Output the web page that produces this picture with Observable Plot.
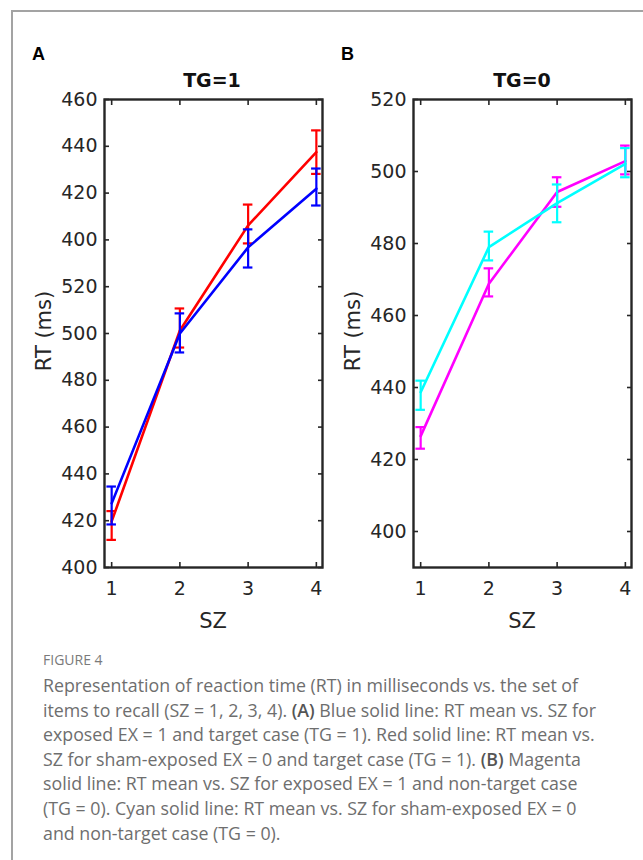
<!DOCTYPE html>
<html>
<head>
<meta charset="utf-8">
<script src="https://cdn.jsdelivr.net/npm/d3@7"></script>
<script src="https://cdn.jsdelivr.net/npm/@observablehq/plot@0.6"></script>
<style>
  html, body { margin: 0; padding: 0; background: #fff; }
  #page { position: relative; width: 643px; height: 860px; overflow: hidden; background: #fff; }
  .border { position: absolute; left: 11px; top: 10px; width: 700px; height: 900px;
            border-left: 2px solid #a3a3a3; border-top: 2px solid #a3a3a3; }
  .plot { position: absolute; top: 40px; }
  #overlay { position: absolute; left: 0; top: 0; }
  .figlabel { position: absolute; left: 43px; top: 650px; font-family: "Open Sans", Lato, sans-serif;
              font-size: 14px; line-height: 20px; color: #7a7a7a; }
  .caption { position: absolute; left: 43px; top: 673px; width: 598px; font-family: "Open Sans", Lato, sans-serif;
             font-size: 17.8px; line-height: 24.6px; color: #6e6e6e; white-space: nowrap; }
  .caption b { color: #555; font-weight: 600; }
</style>
</head>
<body>
<div id="page">
  <div class="border"></div>
  <div id="left" class="plot" style="left:0px"></div>
  <div id="right" class="plot" style="left:320px"></div>
  <svg id="overlay" width="643" height="640"></svg>
  <div class="figlabel">FIGURE 4</div>
  <div class="caption">
    Representation of reaction time (RT) in milliseconds vs. the set of<br>
    items to recall (SZ = 1, 2, 3, 4). <b>(A)</b> Blue solid line: RT mean vs. SZ for<br>
    exposed EX = 1 and target case (TG = 1). Red solid line: RT mean vs.<br>
    SZ for sham-exposed EX = 0 and target case (TG = 1). <b>(B)</b> Magenta<br>
    solid line: RT mean vs. SZ for exposed EX = 1 and non-target case<br>
    (TG = 0). Cyan solid line: RT mean vs. SZ for sham-exposed EX = 0<br>
    and non-target case (TG = 0).
  </div>
</div>
<script>
// ---------- data ----------
const sz = [1, 2, 3, 4];

// Panel A (TG = 1) — y positions on the panel's continuous scale (lower tick labels continued)
const aBlueMean = [427.4, 500.0, 536.8, 561.9];   // EX = 1
const aBlueLo   = [418.4, 491.9, 528.2, 554.7];
const aBlueHi   = [434.6, 508.6, 544.5, 570.5];
const aRedMean  = [419.7, 501.3, 546.2, 577.5];   // EX = 0
const aRedLo    = [411.8, 494.0, 538.5, 568.2];
const aRedHi    = [424.1, 510.7, 555.1, 586.8];

// Panel B (TG = 0)
const bMagMean  = [426.5, 468.8, 494.3, 502.9];   // EX = 1
const bMagLo    = [423.0, 465.3, 490.2, 499.2];
const bMagHi    = [429.0, 473.1, 498.4, 507.2];
const bCyanMean = [438.7, 479.0, 491.2, 502.1];   // EX = 0
const bCyanLo   = [433.8, 475.3, 485.9, 498.4];
const bCyanHi   = [441.9, 483.3, 496.4, 506.5];

// tick values and labels (panel A's labels are printed as in the original figure)
const aTickValues = [400, 420, 440, 460, 480, 500, 520, 540, 560, 580, 600];
const aTickLabels = ["400", "420", "440", "460", "480", "500", "520", "400", "420", "440", "460"];
const bTickValues = [400, 420, 440, 460, 480, 500, 520];
const bTickLabels = ["400", "420", "440", "460", "480", "500", "520"];
const xTickLabels = ["1", "2", "3", "4"];

function rows(mean, lo, hi) {
  return sz.map((s, i) => ({sz: s, mean: mean[i], lo: lo[i], hi: hi[i]}));
}

const CAP = 0.07;

function seriesMarks(data, color) {
  return [
    Plot.line(data, {x: "sz", y: "mean", stroke: color, strokeWidth: 2.6}),
    Plot.ruleX(data, {x: "sz", y1: "lo", y2: "hi", stroke: color, strokeWidth: 2.2}),
    Plot.ruleY(data, {y: "lo", x1: d => d.sz - CAP, x2: d => d.sz + CAP, stroke: color, strokeWidth: 2.2}),
    Plot.ruleY(data, {y: "hi", x1: d => d.sz - CAP, x2: d => d.sz + CAP, stroke: color, strokeWidth: 2.2})
  ];
}

function panel({width, marginLeft, marginRight, yDomain, tickValues, tickLabels, series}) {
  return Plot.plot({
    width, height: 600,
    marginTop: 59, marginBottom: 73, marginLeft, marginRight,
    style: {fontFamily: "'DejaVu Sans', sans-serif", fontSize: "19px", color: "#262626", background: "transparent", overflow: "visible"},
    x: {domain: [0.895, 4.09]},
    y: {domain: yDomain},
    marks: [
      Plot.axisX(sz, {anchor: "bottom", tickSize: -5, tickPadding: 19, strokeWidth: 1.6,
                      tickFormat: d => xTickLabels[sz.indexOf(d)], label: null, fill: "#262626"}),
      Plot.axisX(sz, {anchor: "top", tickSize: -5, strokeWidth: 1.6, tickFormat: () => "", label: null}),
      Plot.axisY(tickValues, {anchor: "left", tickSize: -5, tickPadding: 12, strokeWidth: 1.6,
                              tickFormat: d => tickLabels[tickValues.indexOf(d)], label: null, fill: "#262626"}),
      Plot.axisY(tickValues, {anchor: "right", tickSize: -5, strokeWidth: 1.6, tickFormat: () => "", label: null}),
      ...series.flatMap(s => seriesMarks(s.data, s.color)),
      Plot.frame({stroke: "#262626", strokeWidth: 2.4})
    ]
  });
}

document.getElementById("left").append(panel({
  width: 330, marginLeft: 104, marginRight: 8,
  yDomain: [400, 600], tickValues: aTickValues, tickLabels: aTickLabels,
  series: [
    {data: rows(aRedMean, aRedLo, aRedHi), color: "#ff0000"},
    {data: rows(aBlueMean, aBlueLo, aBlueHi), color: "#0000ff"}
  ]
}));

document.getElementById("right").append(panel({
  width: 323, marginLeft: 93, marginRight: 12,
  yDomain: [390, 520], tickValues: bTickValues, tickLabels: bTickLabels,
  series: [
    {data: rows(bMagMean, bMagLo, bMagHi), color: "#ff00ff"},
    {data: rows(bCyanMean, bCyanLo, bCyanHi), color: "#00ffff"}
  ]
}));

// ---------- titles / panel letters / axis labels ----------
const ov = d3.select("#overlay");
const texts = [
  {t: "A", x: 32, y: 60, anchor: "start", size: 18, weight: "bold", family: "'Liberation Sans', Arial, sans-serif", fill: "#000"},
  {t: "B", x: 341, y: 60, anchor: "start", size: 18, weight: "bold", family: "'Liberation Sans', Arial, sans-serif", fill: "#000"},
  {t: "TG=1", x: 212, y: 87, anchor: "middle", size: 19, weight: "bold", family: "'DejaVu Sans', sans-serif", fill: "#111"},
  {t: "TG=0", x: 522, y: 87, anchor: "middle", size: 19, weight: "bold", family: "'DejaVu Sans', sans-serif", fill: "#111"},
  {t: "SZ", x: 213, y: 628, anchor: "middle", size: 21, weight: "normal", family: "'DejaVu Sans', sans-serif", fill: "#262626"},
  {t: "SZ", x: 522, y: 628, anchor: "middle", size: 21, weight: "normal", family: "'DejaVu Sans', sans-serif", fill: "#262626"}
];
for (const d of texts) {
  ov.append("text").attr("x", d.x).attr("y", d.y).attr("text-anchor", d.anchor)
    .attr("font-size", d.size).attr("font-weight", d.weight).attr("font-family", d.family)
    .attr("fill", d.fill).text(d.t);
}
for (const cx of [51, 360]) {
  ov.append("text").attr("transform", `translate(${cx},331) rotate(-90)`).attr("text-anchor", "middle")
    .attr("font-size", 21).attr("font-family", "'DejaVu Sans', sans-serif").attr("fill", "#262626")
    .text("RT (ms)");
}
</script>
</body>
</html>
